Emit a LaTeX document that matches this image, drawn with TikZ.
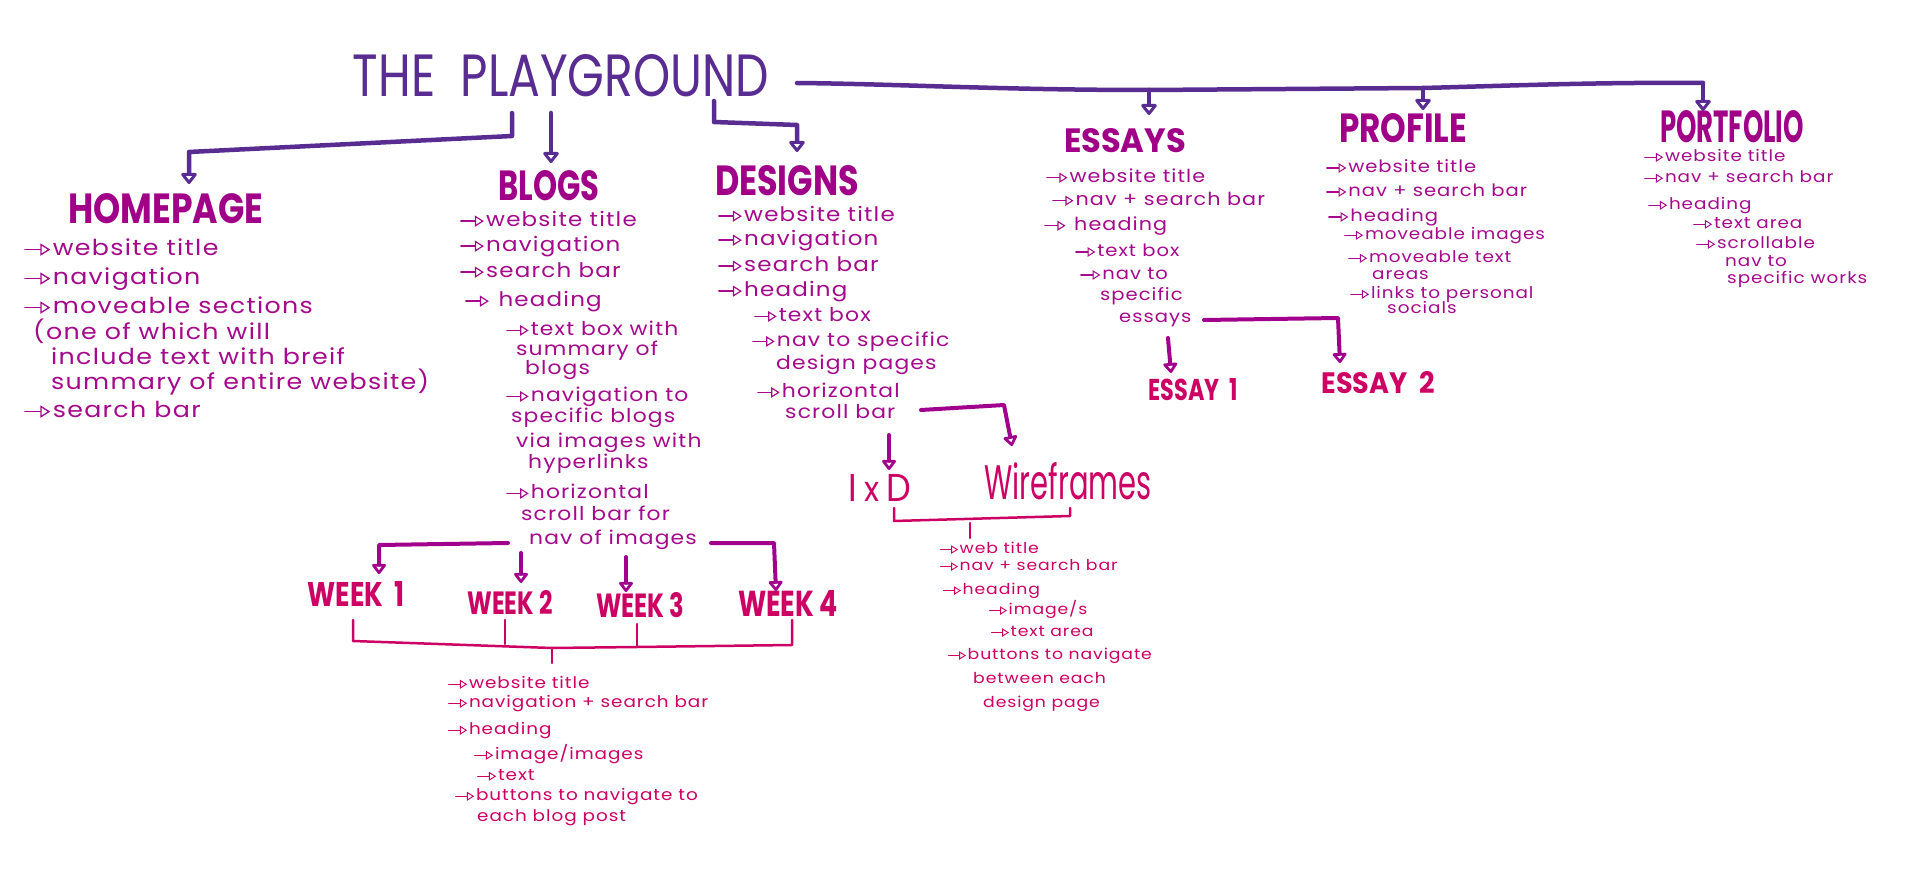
\documentclass[tikz,border=0pt]{standalone}
\usepackage{fontspec}
\usepackage{graphicx}
\setmainfont{Poppins}
\newfontfamily\handfont{Poppins}[FakeStretch=1.15,LetterSpace=6]
\newfontfamily\headfont{Poppins}[FakeStretch=0.8]
\usetikzlibrary{arrows.meta}
\definecolor{titlepurple}{RGB}{88,44,145}
\definecolor{headmag}{RGB}{160,0,135}
\definecolor{listmag}{RGB}{165,10,140}
\definecolor{pinkred}{RGB}{205,0,100}
\definecolor{connmag}{RGB}{160,0,140}
\newcommand\ar{\tikz[baseline=0pt]{\draw[line width=0.07em,line cap=round,-{Triangle[open,length=0.45em,width=0.55em,line width=0.06em]}] (0pt,0.28em) -- (1.15em,0.28em);}\hspace{0.08em}}
\newcommand\fitbox[3]{\resizebox{#1pt}{#2pt}{#3}}
\tikzset{
  hd/.style={inner sep=0pt, color=headmag, font=\headfont\bfseries},
  sub/.style={inner sep=0pt, color=pinkred, font=\headfont\bfseries},
  li/.style={inner sep=0pt, anchor=mid west, font=\handfont\fontsize{#1}{#1}\selectfont},
  lm/.style={li=#1, color=listmag},
  lp/.style={li=#1, color=pinkred},
  topc/.style={draw=titlepurple, line width=4.5pt, line cap=round, line join=round},
  midc/.style={draw=connmag, line width=4pt, line cap=round, line join=round},
  brk/.style={draw=pinkred, line width=2.5pt, line cap=round, line join=round},
  tipb/.style={-{Triangle[open,round,length=12pt,width=18pt,line width=3.5pt]}},
  tips/.style={-{Triangle[open,round,length=11pt,width=16pt,line width=3.2pt]}}
}
\begin{document}
\begin{tikzpicture}[x=1pt,y=-1pt]
\useasboundingbox[fill=white] (0,0) rectangle (1907,877);

% ---------- headings ----------
\node[inner sep=0pt, color=titlepurple, font=\headfont] (title) at (561,76) {\fitbox{416}{42}{THE\ \ PLAYGROUND}};
\node[hd] (home) at (166,209) {\fitbox{195}{30}{HOMEPAGE}};
\node[hd] (blogs) at (549,186) {\fitbox{101}{30}{BLOGS}};
\node[hd] (designs) at (787,181) {\fitbox{144}{30}{DESIGNS}};
\node[hd] (essays) at (1125,141) {\fitbox{122}{24}{ESSAYS}};
\node[hd] (profile) at (1403,128) {\fitbox{128}{29}{PROFILE}};
\node[hd] (portfolio) at (1732,127) {\fitbox{144}{32}{PORTFOLIO}};
\node[sub] (week1) at (356,594) {\fitbox{97}{25}{WEEK\ \ 1}};
\node[sub] (week2) at (510,602) {\fitbox{85}{24}{WEEK 2}};
\node[sub] (week3) at (640,605) {\fitbox{88}{25}{WEEK 3}};
\node[sub] (week4) at (788,603) {\fitbox{100}{26}{WEEK 4}};
\node[sub] (essay1) at (1193,390) {\fitbox{89}{22}{ESSAY\ \ 1}};
\node[sub] (essay2) at (1378,383) {\fitbox{113}{22}{ESSAY\ \ 2}};
\node[sub, font=\headfont] (ixd) at (880,488) {\fitbox{63}{27}{I\,{\small x}\,D}};
\node[sub, font=\headfont] (wire) at (1068,481) {\fitbox{167}{37}{Wireframes}};

% ---------- homepage list ----------
\node[lm=22] (hp1) at (24,253) {\ar website title};
\node[lm=22] (hp2) at (24,282) {\ar navigation};
\node[lm=22] (hp3) at (24,311) {\ar moveable sections};
\node[lm=22] (hp4) at (33,337) {(one of which will};
\node[lm=22] (hp5) at (51,362) {include text with breif};
\node[lm=22] (hp6) at (51,387) {summary of entire website)};
\node[lm=22] (hp7) at (24,415) {\ar search bar};

% ---------- blogs list ----------
\node[lm=20] (bl1) at (460,224) {\ar website title};
\node[lm=20] (bl2) at (460,249) {\ar navigation};
\node[lm=20] (bl3) at (460,275) {\ar search bar};
\node[lm=20] (bl4) at (465,304) {\ar\ heading};
\node[lm=19] (bl5) at (506,333) {\ar text box with};
\node[lm=19] (bl6) at (516,353) {summary of};
\node[lm=19] (bl7) at (525,372) {blogs};
\node[lm=19] (bl8) at (506,399) {\ar navigation to};
\node[lm=19] (bl9) at (511,420) {specific blogs};
\node[lm=19] (bl10) at (516,445) {via images with};
\node[lm=19] (bl11) at (528,466) {hyperlinks};
\node[lm=19] (bl12) at (506,496) {\ar horizontal};
\node[lm=19] (bl13) at (521,518) {scroll bar for};
\node[lm=19] (bl14) at (529,542) {nav of images};

% ---------- designs list ----------
\node[lm=20] (ds1) at (718,219) {\ar website title};
\node[lm=20] (ds2) at (718,243) {\ar navigation};
\node[lm=20] (ds3) at (718,269) {\ar search bar};
\node[lm=20] (ds4) at (718,294) {\ar heading};
\node[lm=19] (ds5) at (754,319) {\ar text box};
\node[lm=19] (ds6) at (752,344) {\ar nav to specific};
\node[lm=19] (ds7) at (776,367) {design pages};
\node[lm=19] (ds8) at (757,395) {\ar horizontal};
\node[lm=19] (ds9) at (785,416) {scroll bar};

% ---------- essays list ----------
\node[lm=18] (es1) at (1046,180) {\ar website title};
\node[lm=18] (es2) at (1052,203) {\ar nav + search bar};
\node[lm=18] (es3) at (1044,228) {\ar\ heading};
\node[lm=17] (es4) at (1075,254) {\ar text box};
\node[lm=17] (es5) at (1080,277) {\ar nav to};
\node[lm=17] (es6) at (1100,298) {specific};
\node[lm=17] (es7) at (1119,320) {essays};

% ---------- profile list ----------
\node[lm=17] (pr1) at (1326,170) {\ar website title};
\node[lm=17] (pr2) at (1326,194) {\ar nav + search bar};
\node[lm=17] (pr3) at (1328,219) {\ar heading};
\node[lm=16] (pr4) at (1344,237) {\ar moveable images};
\node[lm=16] (pr5) at (1348,260) {\ar moveable text};
\node[lm=16] (pr6) at (1372,277) {areas};
\node[lm=16] (pr7) at (1350,296) {\ar links to personal};
\node[lm=16] (pr8) at (1387,311) {socials};

% ---------- portfolio list ----------
\node[lm=16] (pf1) at (1644,159) {\ar website title};
\node[lm=16] (pf2) at (1644,180) {\ar nav + search bar};
\node[lm=16] (pf3) at (1648,207) {\ar heading};
\node[lm=16] (pf4) at (1693,226) {\ar text area};
\node[lm=16] (pf5) at (1696,246) {\ar scrollable};
\node[lm=16] (pf6) at (1725,264) {nav to};
\node[lm=16] (pf7) at (1727,281) {specific works};

% ---------- weeks list ----------
\node[lp=16] (wk1) at (448,686) {\ar website title};
\node[lp=16] (wk2) at (448,705) {\ar navigation + search bar};
\node[lp=16] (wk3) at (448,732) {\ar heading};
\node[lp=16] (wk4) at (474,757) {\ar image/images};
\node[lp=16] (wk5) at (477,778) {\ar text};
\node[lp=16] (wk6) at (455,798) {\ar buttons to navigate to};
\node[lp=16] (wk7) at (477,819) {each blog post};

% ---------- wireframes list ----------
\node[lp=15] (wf1) at (940,551) {\ar web title};
\node[lp=15] (wf2) at (940,568) {\ar nav + search bar};
\node[lp=15] (wf3) at (943,592) {\ar heading};
\node[lp=15] (wf4) at (989,612) {\ar image/s};
\node[lp=15] (wf5) at (991,634) {\ar text area};
\node[lp=15] (wf6) at (948,657) {\ar buttons to navigate};
\node[lp=15] (wf7) at (973,681) {between each};
\node[lp=15] (wf8) at (983,705) {design page};

% ---------- connector points ----------
\coordinate (tEnd) at (797,83);
\coordinate (jE) at (1149,90);
\coordinate (jP) at (1423,88);
\coordinate (jF) at (1703,83);
\coordinate (tE) at (1149,115);
\coordinate (tP) at (1423,110);
\coordinate (tF) at (1703,111);
\coordinate (hA) at (512,113);
\coordinate (hB) at (512,136);
\coordinate (hC) at (189,152);
\coordinate (hT) at (189,184);
\coordinate (bA) at (551,113);
\coordinate (bT) at (551,163);
\coordinate (dA) at (714,101);
\coordinate (dB) at (714,122);
\coordinate (dC) at (797,125);
\coordinate (dT) at (797,152);

% top connectors
\draw[topc] (tEnd) .. controls (900,84) and (1000,90) .. (jE) -- (jP) .. controls (1500,86) and (1600,82) .. (jF);
\draw[topc,tipb] (jE) -- (tE);
\draw[topc,tipb] (jP) -- (tP);
\draw[topc,tipb] (jF) -- (tF);
\draw[topc,tipb] (hA) -- (hB) -- (hC) -- (hT);
\draw[topc,tipb] (bA) -- (bT);
\draw[topc,tipb] (dA) -- (dB) -- (dC) -- (dT);

% blogs -> weeks
\coordinate (w1a) at (508,543);
\coordinate (w1b) at (379,545);
\coordinate (w1t) at (379,574);
\coordinate (w2a) at (521,553);
\coordinate (w2t) at (521,583);
\coordinate (w3a) at (626,557);
\coordinate (w3t) at (626,592);
\coordinate (w4a) at (711,543);
\coordinate (w4b) at (774,543);
\coordinate (w4t) at (776,591);
\draw[midc,tips] (w1a) -- (w1b) -- (w1t);
\draw[midc,tips] (w2a) -- (w2t);
\draw[midc,tips] (w3a) -- (w3t);
\draw[midc,tips] (w4a) -- (w4b) -- (w4t);

% weeks bracket
\coordinate (k1) at (353,620);
\coordinate (k1b) at (353,641);
\coordinate (k2) at (505,620);
\coordinate (k2b) at (505,644);
\coordinate (k3) at (637,624);
\coordinate (k3b) at (637,647);
\coordinate (k4) at (792,620);
\coordinate (k4b) at (792,645);
\coordinate (ks) at (552,648);
\coordinate (kt) at (552,663);
\draw[brk] (k1) -- (k1b) -- (ks) -- (k3b) -- (k4b) -- (k4);
\draw[brk] (k2) -- (k2b);
\draw[brk] (k3) -- (k3b);
\draw[brk] (ks) -- (kt);

% designs -> IxD / wireframes
\coordinate (sA) at (921,410);
\coordinate (sB) at (1004,405);
\coordinate (sT) at (1012,446);
\coordinate (iA) at (889,435);
\coordinate (iT) at (889,470);
\draw[midc,tips] (sA) -- (sB) -- (sT);
\draw[midc,tips] (iA) -- (iT);

% IxD/wireframes bracket
\coordinate (r1) at (894,508);
\coordinate (r1b) at (894,521);
\coordinate (r2b) at (1070,516);
\coordinate (r2) at (1070,508);
\coordinate (rs) at (970,523);
\coordinate (rt) at (970,538);
\draw[brk] (r1) -- (r1b) -- (r2b) -- (r2);
\draw[brk] (rs) -- (rt);

% essays -> essay 1 / essay 2
\coordinate (eA) at (1204,320);
\coordinate (eB) at (1338,318);
\coordinate (eT) at (1340,363);
\coordinate (fA) at (1168,338);
\coordinate (fT) at (1171,373);
\draw[midc,tips] (eA) -- (eB) -- (eT);
\draw[midc,tips] (fA) -- (fT);
\end{tikzpicture}
\end{document}
